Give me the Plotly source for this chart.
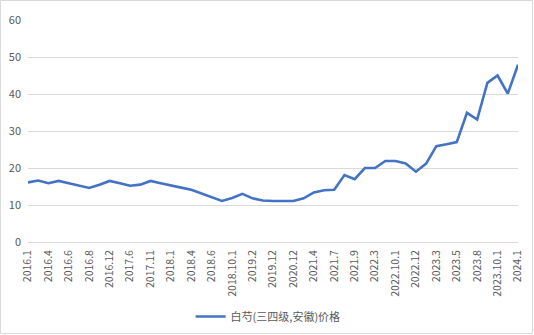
import plotly.graph_objects as go

categories = [
    "2016.1", "2016.2", "2016.4", "2016.5", "2016.6", "2016.7", "2016.8", "2016.10",
    "2016.12", "2017.3", "2017.6", "2017.9", "2017.11", "2017.12", "2018.1", "2018.3",
    "2018.4", "2018.5", "2018.6", "2018.8", "2018.10.1", "2018.12", "2019.2", "2019.6",
    "2019.12", "2020.6", "2020.12", "2021.1", "2021.4", "2021.6", "2021.7", "2021.8",
    "2021.9", "2022.1", "2022.3", "2022.6", "2022.10.1", "2022.11", "2022.12", "2023.1",
    "2023.3", "2023.4", "2023.5", "2023.6", "2023.8", "2023.9", "2023.10.1", "2023.12",
    "2024.1",
]
prices = [
    16.1, 16.6, 15.9, 16.5, 15.9, 15.2, 14.6, 15.5,
    16.5, 15.9, 15.2, 15.5, 16.5, 15.9, 15.2, 14.7,
    14.1, 13.1, 12.0, 11.1, 11.9, 13.0, 11.8, 11.2,
    11.1, 11.1, 11.1, 11.8, 13.4, 14.0, 14.1, 18.1,
    17.0, 20.0, 20.0, 21.9, 21.9, 21.2, 19.0, 21.2,
    25.9, 26.4, 27.0, 34.9, 33.1, 43.0, 45.0, 40.1,
    47.9,
]
series_name = "白芍(三四级,安徽)价格"
y_ticks = [0, 10, 20, 30, 40, 50, 60]

W, H = 534, 335
L, R, T, B = 28, 16, 20, 93
pw, ph = W - L - R, H - T - B

font = "Noto Sans CJK SC, Liberation Sans, sans-serif"
gray = "#595959"

fig = go.Figure()
fig.add_trace(go.Scatter(
    x=categories, y=prices, mode="lines", name=series_name,
    line=dict(color="#4472C4", width=2.6),
))

fig.update_layout(
    width=W, height=H,
    margin=dict(l=L, r=R, t=T, b=B, autoexpand=False),
    paper_bgcolor="white", plot_bgcolor="white",
    font=dict(family=font, size=10, color=gray),
    showlegend=True,
    legend=dict(orientation="h", x=0.49, xanchor="center", y=-0.27, yanchor="top",
                font=dict(size=11, color=gray)),
    xaxis=dict(
        type="category", tickmode="array", tickvals=categories[::2],
        ticktext=categories[::2], tickangle=-90, showgrid=False,
        showline=False, ticks="", tickfont=dict(size=10.5, color=gray),
        automargin=False, ticklabelstandoff=5,
    ),
    yaxis=dict(
        range=[0, 60], tickvals=y_ticks, showgrid=True, gridcolor="#D9D9D9",
        gridwidth=1, zeroline=True, zerolinecolor="#D9D9D9", zerolinewidth=1,
        showline=False, ticks="", tickfont=dict(size=11, color=gray),
        automargin=False, ticklabelstandoff=6,
    ),
)

fig.add_shape(
    type="rect", xref="paper", yref="paper",
    x0=(0.5 - L) / pw, x1=(W - 1.5 - L) / pw,
    y0=-(H - 1.5 - T - ph) / ph,
    y1=1 + (T - 0.5) / ph,
    line=dict(color="#D9D9D9", width=1), fillcolor="rgba(0,0,0,0)", layer="below",
)

fig.write_html("out.html")
